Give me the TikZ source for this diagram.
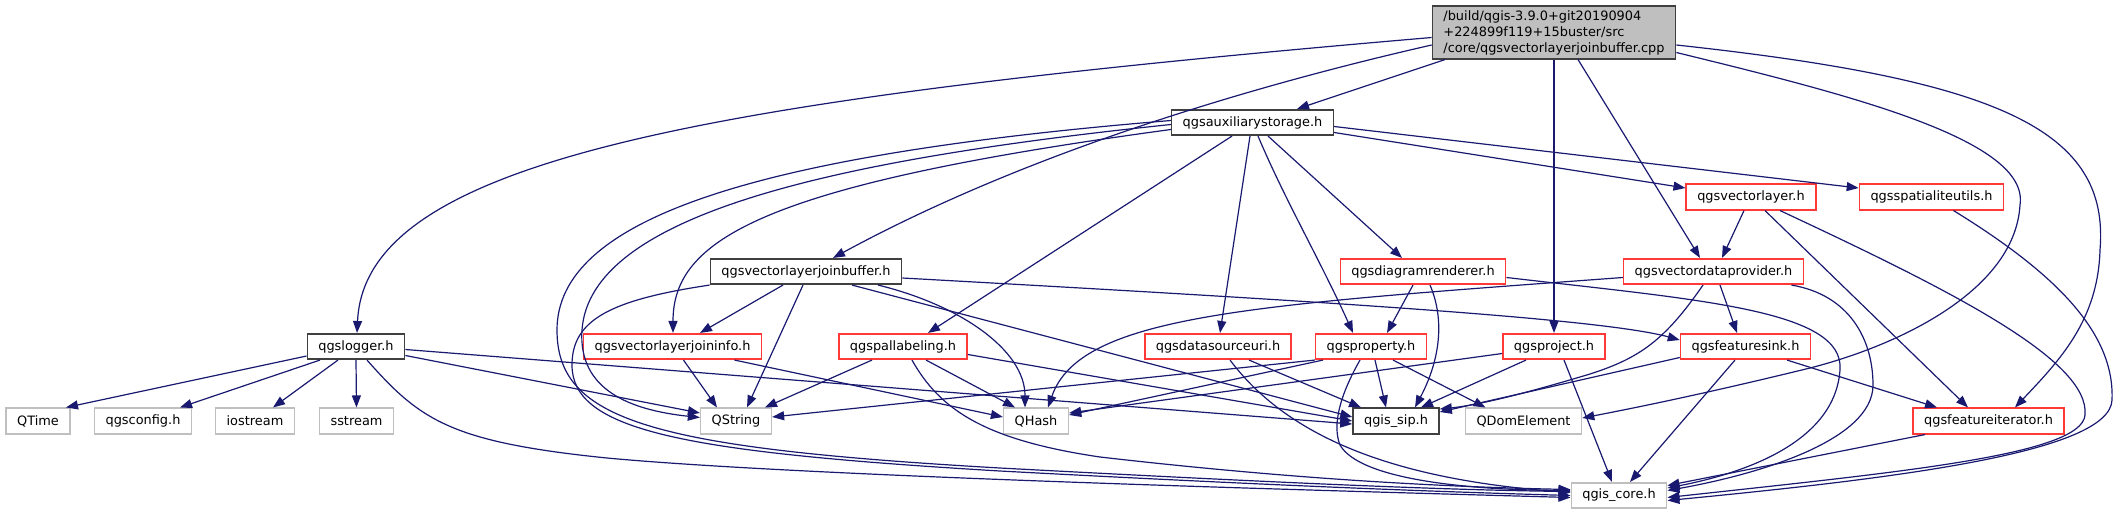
\documentclass[tikz,border=0pt]{standalone}
\usepackage{fontspec}
\setmainfont{DejaVu Sans}
\usepackage{tikz}
\usetikzlibrary{arrows.meta}

\definecolor{edgeblue}{HTML}{191970}
\definecolor{hdrred}{HTML}{FF3838}
\definecolor{sysgray}{HTML}{BFBFBF}
\definecolor{rootgray}{HTML}{BFBFBF}

\tikzset{
  hdr/.style={draw, fill=white, line width=1.6pt, minimum height=25.5pt,
    inner xsep=11pt, inner ysep=0pt, font=\fontsize{12.9}{16}\selectfont},
  mainhdr/.style={hdr, draw=black!75},
  redhdr/.style={hdr, draw=hdrred},
  syshdr/.style={hdr, draw=sysgray},
  roothdr/.style={hdr, draw=black!75, fill=rootgray, align=left, inner ysep=4pt},
  incl/.style={draw=edgeblue, line width=1.2pt, -{Triangle[length=12pt,width=9pt]}}
}

\begin{document}
\begin{tikzpicture}[x=1pt, y=-1pt]
    \useasboundingbox (0,0) rectangle (2121,515);

    % Source file
    \node[roothdr] (root) at (1554,32.5) {/build/qgis-3.9.0+git20190904\\+224899f119+15buster/src\\/core/qgsvectorlayerjoinbuffer.cpp};

    % Headers, row by row
    \node[mainhdr] (aux) at (1252.5,122.5) {qgsauxiliarystorage.h};
    \node[redhdr] (vlayer) at (1751,197) {qgsvectorlayer.h};
    \node[redhdr] (spatialite) at (1931.5,197) {qgsspatialiteutils.h};
    \node[mainhdr] (joinbuf) at (806,271.5) {qgsvectorlayerjoinbuffer.h};
    \node[redhdr] (diagram) at (1423,271.5) {qgsdiagramrenderer.h};
    \node[redhdr] (vdp) at (1713.5,271.5) {qgsvectordataprovider.h};
    \node[mainhdr] (logger) at (356,346.5) {qgslogger.h};
    \node[redhdr] (joininfo) at (672.5,346.5) {qgsvectorlayerjoininfo.h};
    \node[redhdr] (pallab) at (903,346.5) {qgspallabeling.h};
    \node[redhdr] (dsuri) at (1218,346.5) {qgsdatasourceuri.h};
    \node[redhdr] (prop) at (1371,346.5) {qgsproperty.h};
    \node[redhdr] (project) at (1554,346.5) {qgsproject.h};
    \node[redhdr] (fsink) at (1745.5,346.5) {qgsfeaturesink.h};
    \node[syshdr] (qtime) at (38,421) {QTime};
    \node[syshdr] (qgsconfig) at (143,421) {qgsconfig.h};
    \node[syshdr] (iostream) at (255,421) {iostream};
    \node[syshdr] (sstream) at (356.5,421) {sstream};
    \node[syshdr] (qstring) at (736,421) {QString};
    \node[syshdr] (qhash) at (1036,421) {QHash};
    \node[mainhdr] (qgissip) at (1396,421) {qgis\_sip.h};
    \node[syshdr] (qdom) at (1523.5,421) {QDomElement};
    \node[redhdr] (fiter) at (1988.5,421) {qgsfeatureiterator.h};
    \node[syshdr] (qgiscore) at (1619,495.5) {qgis\_core.h};

    % From the source file
    \draw[incl] ([xshift=-109pt]root.south) -- ([xshift=44.5pt]aux.north);
    \draw[incl] ([yshift=-12.5pt]root.west) .. controls (1300,75) and (1050,140) .. ([xshift=27pt]joinbuf.north);
    \draw[incl] ([yshift=-5pt]root.west) .. controls (700,100) and (365,160) .. ([xshift=1pt]logger.north);
    \draw[incl] (root.south) -- (project.north);
    \draw[incl] ([xshift=24pt]root.south) -- ([xshift=-13.5pt]vdp.north);
    \draw[incl] ([yshift=-12.5pt]root.east) .. controls (2000,80) and (2110,130) .. (2100,250)
        .. controls (2098,320) and (2060,360) .. ([xshift=26.5pt]fiter.north);
    \draw[incl] ([yshift=-20pt]root.east) .. controls (1850,95) and (2030,140) .. (2020,205)
        .. controls (2015,290) and (1900,345) .. (1810,368)
        .. controls (1720,390) and (1650,405) .. ([yshift=3pt]qdom.east);

    % From qgsauxiliarystorage.h
    \draw[incl] ([yshift=-10pt]aux.east) -- ([yshift=9pt]vlayer.west);
    \draw[incl] ([yshift=-4pt]aux.east) -- ([yshift=9pt]spatialite.west);
    \draw[incl] ([yshift=-7pt]aux.west) .. controls (760,185) and (673,240) .. ([xshift=0.5pt]joininfo.north);
    \draw[incl] ([yshift=-2pt]aux.west) .. controls (830,160) and (590,215) .. (582,330)
        .. controls (578,390) and (630,410) .. ([yshift=3.5pt]qstring.west);
    \draw[incl] ([yshift=2pt]aux.west) .. controls (750,155) and (557,220) .. (557,330)
        .. controls (557,420) and (650,448) .. (1000,468)
        .. controls (1300,484) and (1450,490) .. ([yshift=4pt]qgiscore.west);
    \draw[incl] ([xshift=-20.5pt]aux.south) -- ([xshift=25pt]pallab.north);
    \draw[incl] ([xshift=-2.5pt]aux.south) -- ([xshift=2pt]dsuri.north);
    \draw[incl] ([xshift=5.5pt]aux.south) .. controls (1285,200) and (1320,260) .. ([xshift=-18pt]prop.north);
    \draw[incl] ([xshift=15.5pt]aux.south) -- ([xshift=-21pt]diagram.north);

    % From qgsvectorlayerjoinbuffer.h
    \draw[incl] ([xshift=-23pt]joinbuf.south) -- ([xshift=27.5pt]joininfo.north);
    \draw[incl] ([xshift=-3pt]joinbuf.south) -- ([xshift=11pt]qstring.north);
    \draw[incl] ([xshift=46pt]joinbuf.south) -- ([yshift=4pt]qgissip.west);
    \draw[incl] ([xshift=72pt]joinbuf.south) .. controls (960,305) and (1025,350) .. ([xshift=-11pt]qhash.north);
    \draw[incl] ([yshift=-6.5pt]joinbuf.east) .. controls (1300,300) and (1600,318) .. ([yshift=6.5pt]fsink.west);
    \draw[incl] (joinbuf.south west) .. controls (610,300) and (572,320) .. (572,365)
        .. controls (572,430) and (680,452) .. (1000,471)
        .. controls (1300,487) and (1450,492) .. (qgiscore.west);

    % From qgslogger.h
    \draw[incl] ([yshift=-9.5pt]logger.west) -- ([xshift=28pt]qtime.north);
    \draw[incl] ([xshift=-36pt]logger.south) -- ([xshift=37pt]qgsconfig.north);
    \draw[incl] ([xshift=-18pt]logger.south) -- ([xshift=18pt]iostream.north);
    \draw[incl] (logger.south) -- (sstream.north);
    \draw[incl] ([yshift=-9pt]logger.east) -- ([yshift=8pt]qstring.west);
    \draw[incl] ([yshift=-3pt]logger.east) -- ([yshift=-3pt]qgissip.west);
    \draw[incl] ([xshift=11pt]logger.south) .. controls (420,420) and (450,442) .. (607,458)
        .. controls (800,476) and (1300,490) .. ([yshift=-2pt]qgiscore.west);

    % From qgsvectorlayerjoininfo.h
    \draw[incl] ([xshift=11pt]joininfo.south) -- ([xshift=-19pt]qstring.north);
    \draw[incl] ([xshift=62pt]joininfo.south) -- ([yshift=4pt]qhash.west);

    % From qgspallabeling.h
    \draw[incl] ([xshift=-31pt]pallab.south) -- ([xshift=29pt]qstring.north);
    \draw[incl] ([xshift=23pt]pallab.south) -- ([xshift=-21pt]qhash.north);
    \draw[incl] ([yshift=-8pt]pallab.east) -- (qgissip.west);
    \draw[incl] ([xshift=9pt]pallab.south) .. controls (940,410) and (985,440) .. (1100,457)
        .. controls (1300,480) and (1450,487) .. ([yshift=6pt]qgiscore.west);

    % From qgsdatasourceuri.h
    \draw[incl] ([xshift=31pt]dsuri.south) -- ([xshift=-35pt]qgissip.north);
    \draw[incl] ([xshift=12pt]dsuri.south) .. controls (1290,440) and (1400,480) .. ([yshift=3pt]qgiscore.west);

    % From qgsproperty.h
    \draw[incl] (prop.south west) -- ([yshift=4pt]qstring.east);
    \draw[incl] ([xshift=-48pt]prop.south) -- ([yshift=6pt]qhash.east);
    \draw[incl] ([xshift=4pt]prop.south) -- ([xshift=-10pt]qgissip.north);
    \draw[incl] ([xshift=22pt]prop.south) -- ([xshift=-38pt]qdom.north);
    \draw[incl] ([xshift=-11pt]prop.south) .. controls (1340,395) and (1332,425) .. (1340,445)
        .. controls (1360,480) and (1470,490) .. ([yshift=5pt]qgiscore.west);

    % From qgsproject.h
    \draw[incl] ([yshift=-7pt]project.west) -- ([yshift=8pt]qhash.east);
    \draw[incl] ([xshift=-28pt]project.south) -- ([xshift=25pt]qgissip.north);
    \draw[incl] ([xshift=10pt]project.south) -- ([xshift=-7pt]qgiscore.north);

    % From qgsfeaturesink.h
    \draw[incl] ([yshift=-11pt]fsink.west) -- ([yshift=9pt]qgissip.east);
    \draw[incl] ([xshift=41.5pt]fsink.south) -- ([xshift=-51.5pt]fiter.north);
    \draw[incl] ([xshift=-10.5pt]fsink.south) -- ([xshift=11pt]qgiscore.north);

    % From qgsdiagramrenderer.h
    \draw[incl] ([xshift=-10pt]diagram.south) -- ([xshift=16pt]prop.north);
    \draw[incl] ([xshift=7pt]diagram.south) .. controls (1445,320) and (1440,360) .. ([xshift=19pt]qgissip.north);
    \draw[incl] ([yshift=-6pt]diagram.east) .. controls (1700,300) and (1845,310) .. (1840,370)
        .. controls (1835,440) and (1750,472) .. ([yshift=7.5pt]qgiscore.east);

    % From qgsvectordataprovider.h
    \draw[incl] ([xshift=6.5pt]vdp.south) -- ([xshift=-8.5pt]fsink.north);
    \draw[incl] ([yshift=-6pt]vdp.west) .. controls (1250,305) and (1080,315) .. ([xshift=12pt]qhash.north);
    \draw[incl] ([xshift=-10.5pt]vdp.south) .. controls (1665,340) and (1640,358) .. (1590,374)
        .. controls (1530,392) and (1480,405) .. ([yshift=12pt]qgissip.east);
    \draw[incl] ([xshift=78pt]vdp.south) .. controls (1850,295) and (1873,340) .. (1873,385)
        .. controls (1873,440) and (1760,474) .. ([yshift=5pt]qgiscore.east);

    % From qgsvectorlayer.h
    \draw[incl] ([xshift=-7pt]vlayer.south) -- ([xshift=8.5pt]vdp.north);
    \draw[incl] ([xshift=14pt]vlayer.south) -- ([xshift=-20.5pt]fiter.north);
    \draw[incl] ([xshift=29pt]vlayer.south) .. controls (1950,290) and (2090,360) .. (2085,415)
        .. controls (2082,455) and (1900,472) .. ([yshift=-2pt]qgiscore.east);

    % From qgsspatialiteutils.h
    \draw[incl] ([xshift=22pt]spatialite.south) .. controls (2050,270) and (2115,330) .. (2112,400)
        .. controls (2110,452) and (1900,478) .. ([yshift=-5pt]qgiscore.east);

    % From qgsfeatureiterator.h
    \draw[incl] ([xshift=-63.5pt]fiter.south) -- ([yshift=10pt]qgiscore.east);
\end{tikzpicture}
\end{document}
